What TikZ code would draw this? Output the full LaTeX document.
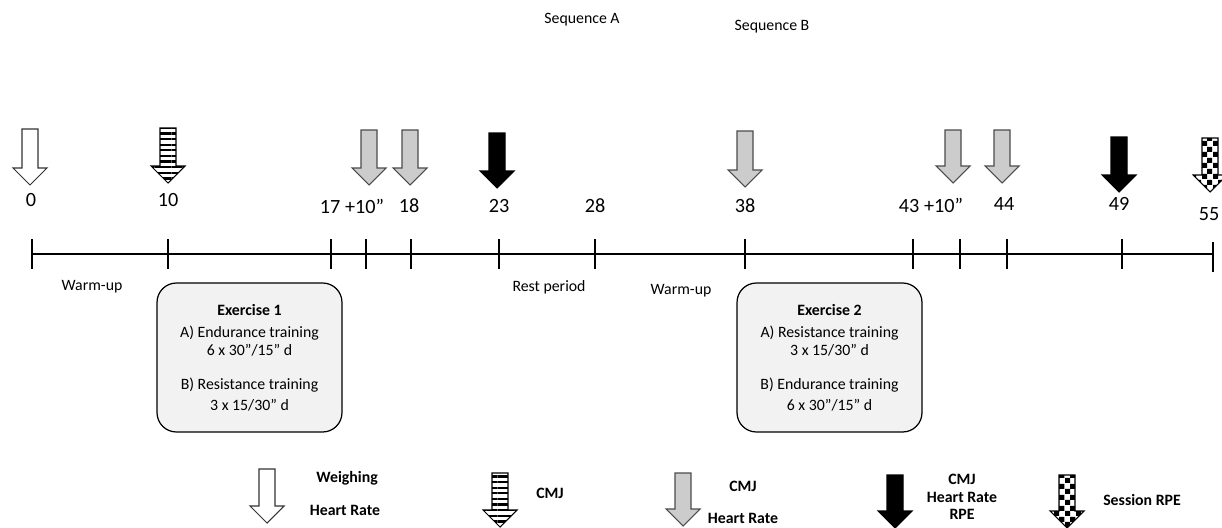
\documentclass[tikz,border=0pt]{standalone}
\usepackage{fontspec}
\setmainfont{Carlito}
\usetikzlibrary{patterns,patterns.meta}
\pgfdeclarepatternformonly{checkers}{\pgfpointorigin}{\pgfqpoint{6pt}{6pt}}{\pgfqpoint{6pt}{6pt}}{\pgfpathrectangle{\pgfpointorigin}{\pgfqpoint{3pt}{3pt}}\pgfpathrectangle{\pgfqpoint{3pt}{3pt}}{\pgfqpoint{3pt}{3pt}}\pgfusepath{fill}}
\def\timearrow[#1](#2,#3)(#4){\draw[#1] (#2-8,#3) -- (#2+8,#3) -- (#2+8,#3+#4-17) -- (#2+17,#3+#4-17) -- (#2,#3+#4) -- (#2-17,#3+#4-17) -- (#2-8,#3+#4-17) -- cycle;}

\begin{document}
\begin{tikzpicture}[x=0.02cm,y=-0.02cm,
	num/.style={font=\fontsize{11.5}{13}\selectfont, inner sep=0pt},
	lbl/.style={font=\fontsize{9}{11}\selectfont, inner sep=0pt},
	key/.style={font=\fontsize{9}{11}\selectfont\bfseries, inner sep=0pt, align=center},
	axis/.style={line width=1.6pt},
	exbox/.style={draw, line width=0.7pt, fill=black!5, rounded corners=11pt, minimum width=3.7cm, minimum height=2.98cm, align=center, font=\fontsize{9}{10.5}\selectfont},
	hollow/.style={draw=black!80, line width=0.6pt, fill=white},
	striped/.style={draw=black, line width=0.6pt, pattern={Lines[angle=0,distance=3.2pt,line width=1.3pt]}},
	grey/.style={draw=black!70, line width=0.6pt, fill=black!20},
	dark/.style={draw=black, line width=0.6pt, fill=black},
	checked/.style={draw=black, line width=0.6pt, pattern=checkers}]
			%%%%% START %%%%%
			\useasboundingbox (0,0) rectangle (1222,527);
			
			\node[lbl] (seqA) at (582,20) {Sequence A};
			\node[lbl] (seqB) at (772,27) {Sequence B};
			
			% time line
			\draw[axis] (32,254) -- (1213,254);
			\foreach \x in {32,168,331,366,411,499,595,745,913,960,1007,1122}
				\draw[axis] (\x,239) -- (\x,269);
			\draw[axis] (1213,242) -- (1213,272);
			
			% markers
			\timearrow[hollow](30,129)(56);
			\timearrow[striped](168,128)(55);
			\timearrow[grey](369,130)(55);
			\timearrow[grey](410,130)(55);
			\timearrow[dark](497,133)(55);
			\timearrow[grey](745,131)(56);
			\timearrow[grey](953,130)(53);
			\timearrow[grey](1002,130)(53);
			\timearrow[dark](1119,137)(55);
			\timearrow[checked](1210,138)(54);
			
			\node[num] (m0) at (31,200) {0};
			\node[num] (m10) at (168,200) {10};
			\node[num] (m17) at (352,206) {17 +10”};
			\node[num] (m18) at (409,206) {18};
			\node[num] (m23) at (499,206) {23};
			\node[num] (m28) at (595,206) {28};
			\node[num] (m38) at (745,206) {38};
			\node[num] (m43) at (931,205) {43 +10”};
			\node[num] (m44) at (1004,204) {44};
			\node[num] (m49) at (1119,204) {49};
			\node[num] (m55) at (1209,214) {55};
			
			\node[lbl] (warm1) at (92,287) {Warm-up};
			\node[lbl] (rest) at (549,287) {Rest period};
			\node[lbl] (warm2) at (681,291) {Warm-up};
			
			\node[exbox] (ex1) at (249.5,357.5) {\textbf{Exercise 1}\\[2pt] A) Endurance training\\ 6 x 30”/15” d\\[9pt] B) Resistance training\\[1pt] 3 x 15/30” d};
			\node[exbox] (ex2) at (829.5,357.5) {\textbf{Exercise 2}\\[2pt] A) Resistance training\\ 3 x 15/30” d\\[9pt] B) Endurance training\\[1pt] 6 x 30”/15” d};
			
			% legend
			\timearrow[hollow](267,469)(54);
			\node[key] (kw) at (347,478) {Weighing};
			\node[key] (kwh) at (345,510) {Heart Rate};
			\timearrow[striped](500,473)(54);
			\node[key] (kc) at (550,493) {CMJ};
			\timearrow[grey](683,473)(53);
			\node[key] (kg) at (743,486) {CMJ};
			\node[key] (kgh) at (743,518) {Heart Rate};
			\timearrow[dark](895,475)(53);
			\node[key] (kd) at (962,497) {CMJ\\[-1pt] Heart Rate\\[-1pt] RPE};
			\timearrow[checked](1067,475)(53);
			\node[key] (ks) at (1142,500) {Session RPE};
			%%%%% END %%%%%
\end{tikzpicture}
\end{document}
